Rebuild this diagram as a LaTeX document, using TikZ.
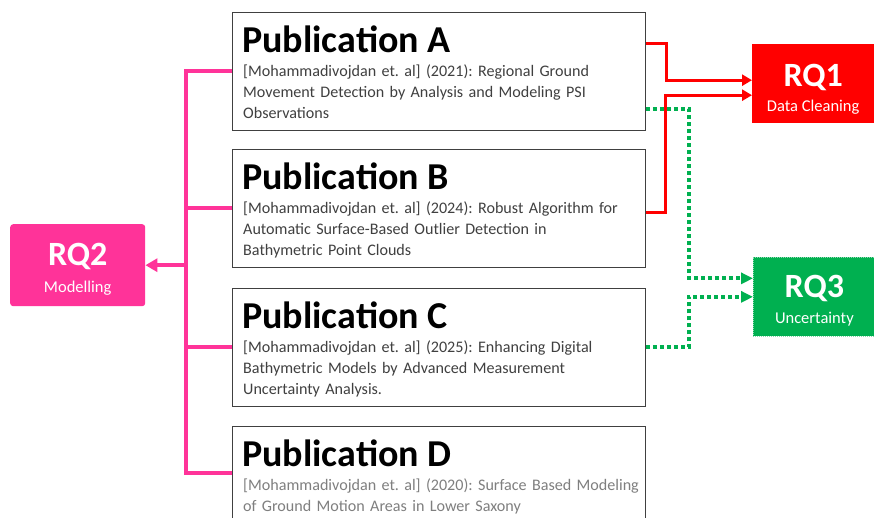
\documentclass[tikz,border=0pt]{standalone}
\usepackage{fontspec}
\setmainfont{Carlito}
\usetikzlibrary{arrows.meta}
\definecolor{pinkc}{HTML}{FF3399}
\definecolor{redc}{HTML}{FF0000}
\definecolor{greenc}{HTML}{00B050}
\definecolor{boxgray}{HTML}{404040}
\definecolor{textgray}{HTML}{404040}
\definecolor{lighttext}{HTML}{7F7F7F}
\begin{document}
\frenchspacing
\begin{tikzpicture}[x=1pt,y=1pt,
  pub/.style={draw=boxgray, line width=0.8pt, minimum width=413pt, minimum height=118pt, inner sep=0pt, anchor=north west},
  ptitle/.style={anchor=base west, inner sep=0pt, font=\fontsize{38}{38}\selectfont\bfseries},
  pbody/.style={anchor=base west, inner sep=0pt, text width=405pt, align=left, font=\frenchspacing\fontsize{16.1}{21}\selectfont, text=textgray},
  rqbox/.style={minimum width=122pt, minimum height=79pt, inner sep=0pt, anchor=north west},
  rqbig/.style={text=white, font=\fontsize{34}{34}\selectfont\bfseries, anchor=base, inner sep=0pt},
  rqsmall/.style={text=white, font=\fontsize{16.5}{16.5}\selectfont, anchor=base, inner sep=0pt},
  pinkline/.style={draw=pinkc, line width=4pt},
  redline/.style={draw=redc, line width=3pt, -{Triangle[length=10pt,width=11pt]}},
  greenline/.style={draw=greenc, line width=4pt, dash pattern=on 4pt off 3pt, -{Triangle[length=12pt,width=11pt]}}
]
\useasboundingbox (0,0) rectangle (874,518);
\clip (0,0) rectangle (874,518);
\fill[white] (0,0) rectangle (874,518);

% publication boxes
\node[pub] (pubA) at (232,506) {};
\node[pub] (pubB) at (232,369) {};
\node[pub] (pubC) at (232,230) {};
\node[pub, minimum height=94pt] (pubD) at (232,92) {};

\node[ptitle] (tA) at ([xshift=10pt,yshift=-41pt]pubA.north west) {Publication A};
\node[pbody] (bA) at ([xshift=11pt,yshift=-65pt]pubA.north west) {[Mohammadivojdan et. al] (2021): Regional Ground\\Movement Detection by Analysis and Modeling PSI\\Observations};
\node[ptitle] (tB) at ([xshift=10pt,yshift=-41pt]pubB.north west) {Publication B};
\node[pbody] (bB) at ([xshift=11pt,yshift=-65pt]pubB.north west) {[Mohammadivojdan et. al] (2024): Robust Algorithm for\\Automatic Surface-Based Outlier Detection in\\Bathymetric Point Clouds};
\node[ptitle] (tC) at ([xshift=10pt,yshift=-41pt]pubC.north west) {Publication C};
\node[pbody] (bC) at ([xshift=11pt,yshift=-65pt]pubC.north west) {[Mohammadivojdan et. al] (2025): Enhancing Digital\\Bathymetric Models by Advanced Measurement\\Uncertainty Analysis.};
\node[ptitle] (tD) at ([xshift=10pt,yshift=-41pt]pubD.north west) {Publication D};
\node[pbody, text=lighttext] (bD) at ([xshift=11pt,yshift=-65pt]pubD.north west) {[Mohammadivojdan et. al] (2020): Surface Based Modeling\\of Ground Motion Areas in Lower Saxony};

% RQ boxes
\node[rqbox, fill=redc] (rq1) at (752,474) {};
\node[rqbig] (rq1t) at ([yshift=-3pt]rq1.center) {RQ1};
\node[rqsmall] (rq1s) at ([yshift=-28pt]rq1.center) {Data Cleaning};

\node[rqbox, fill=greenc, draw=white!55!greenc, dash pattern=on 1pt off 1pt, line width=0.7pt] (rq3) at (753,261) {};
\node[rqbig] (rq3t) at ([yshift=-0.5pt]rq3.center) {RQ3};
\node[rqsmall] (rq3s) at ([yshift=-26.5pt]rq3.center) {Uncertainty};

\node[rqbox, fill=pinkc, minimum width=135pt, minimum height=82pt, rounded corners=3pt] (rq2) at (10,294) {};
\node[rqbig] (rq2t) at (rq2.center) {RQ2};
\node[rqsmall] (rq2s) at ([yshift=-27pt]rq2.center) {Modelling};

% pink bus
\coordinate (bus) at (186,0);
\draw[pinkline] (pubA.west) -| (pubD.west -| bus) -- (pubD.west);
\draw[pinkline] (pubB.west) -- (pubB.west -| bus);
\draw[pinkline] (pubC.west) -- (pubC.west -| bus);
\draw[pinkline, -{Triangle[length=12pt,width=13pt]}] (rq2.east -| bus) -- (rq2.east);

% green dotted
\draw[greenline] ([yshift=-38pt]pubA.east) -- ++(43,0) |- ([yshift=18.5pt]rq3.west);
\draw[greenline] (pubC.east) -- ++(43,0) |- (rq3.west);

% red
\draw[redline] ([yshift=28pt]pubA.east) -- ++(21,0) |- ([yshift=3.5pt]rq1.west);
\draw[redline] ([yshift=-4pt]pubB.east) -- ++(20,0) |- ([yshift=-11.5pt]rq1.west);
\end{tikzpicture}
\end{document}
